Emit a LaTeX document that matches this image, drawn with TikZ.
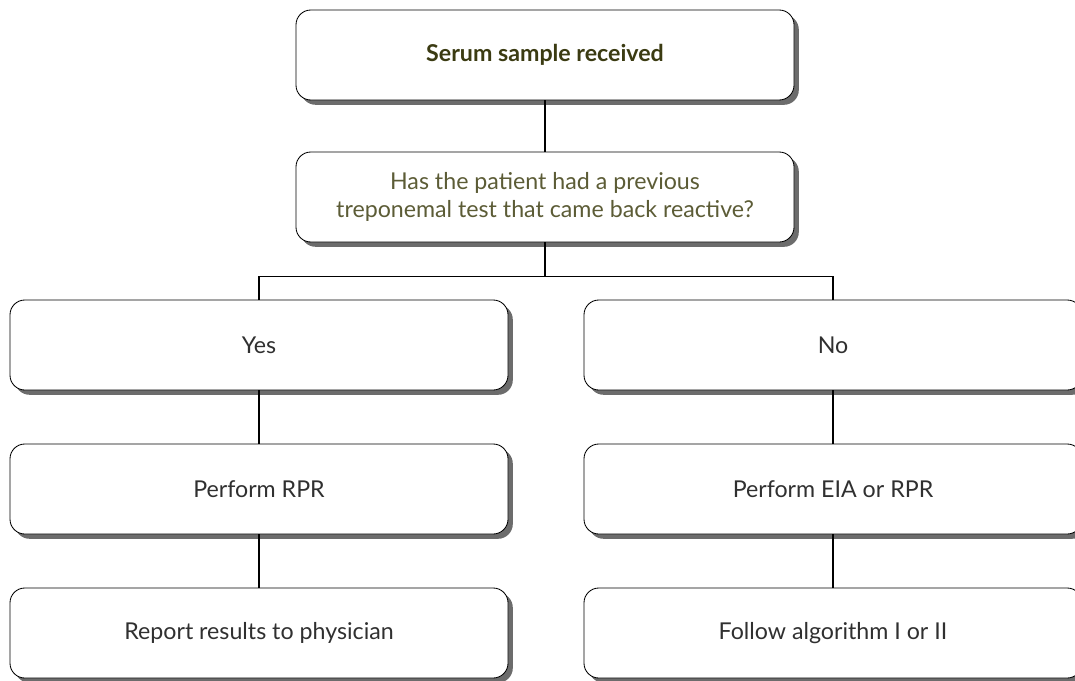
\documentclass[tikz,border=0pt]{standalone}
\usepackage{fontspec}
\setmainfont{Lato}
\usepackage{tikz}
\usetikzlibrary{positioning,shadows}
\definecolor{olivedark}{HTML}{3B3B12}
\definecolor{olivetext}{HTML}{5C5C36}
\definecolor{boxtext}{HTML}{303030}

\begin{document}
\begin{tikzpicture} [node distance=3.6cm,
                    link/.style={draw=black,line width=1pt},
                    flowbox/.style={rectangle,rounded corners=0.37cm,draw=black,line width=0.6pt,fill=white,
                      minimum width=12.45cm,minimum height=2.25cm,align=center,text=boxtext,
                      font=\fontsize{16.5}{20}\selectfont,
                      drop shadow={shadow xshift=0.12cm,shadow yshift=-0.12cm,fill=gray!85!black,opacity=1}}]

\useasboundingbox (0,0) rectangle (26.875,-17);

\node[flowbox,text=olivedark,font=\fontsize{16.5}{20}\selectfont\bfseries] (serum) at (13.625,-1.375) {Serum sample received};
\node[flowbox,text=olivetext] (prev) [below of=serum, node distance=3.55cm] {Has the patient had a previous\\treponemal test that came back reactive?};
\node[flowbox] (yes) at (6.475,-8.625) {Yes};
\node[flowbox] (no) at (20.825,-8.625) {No};
\node[flowbox] (rpr) [below of=yes] {Perform RPR};
\node[flowbox] (eia) [below of=no] {Perform EIA or RPR};
\node[flowbox] (report) [below of=rpr] {Report results to physician};
\node[flowbox] (algo) [below of=eia] {Follow algorithm I or II};

\path (prev.south) ++(0,-0.85) coordinate (split);

\draw[link] (serum) -- (prev);
\draw[link] (prev) -- (split);
\draw[link] (yes) |- (split) -| (no);
\draw[link] (yes) -- (rpr);
\draw[link] (rpr) -- (report);
\draw[link] (no) -- (eia);
\draw[link] (eia) -- (algo);
\end{tikzpicture}
\end{document}
